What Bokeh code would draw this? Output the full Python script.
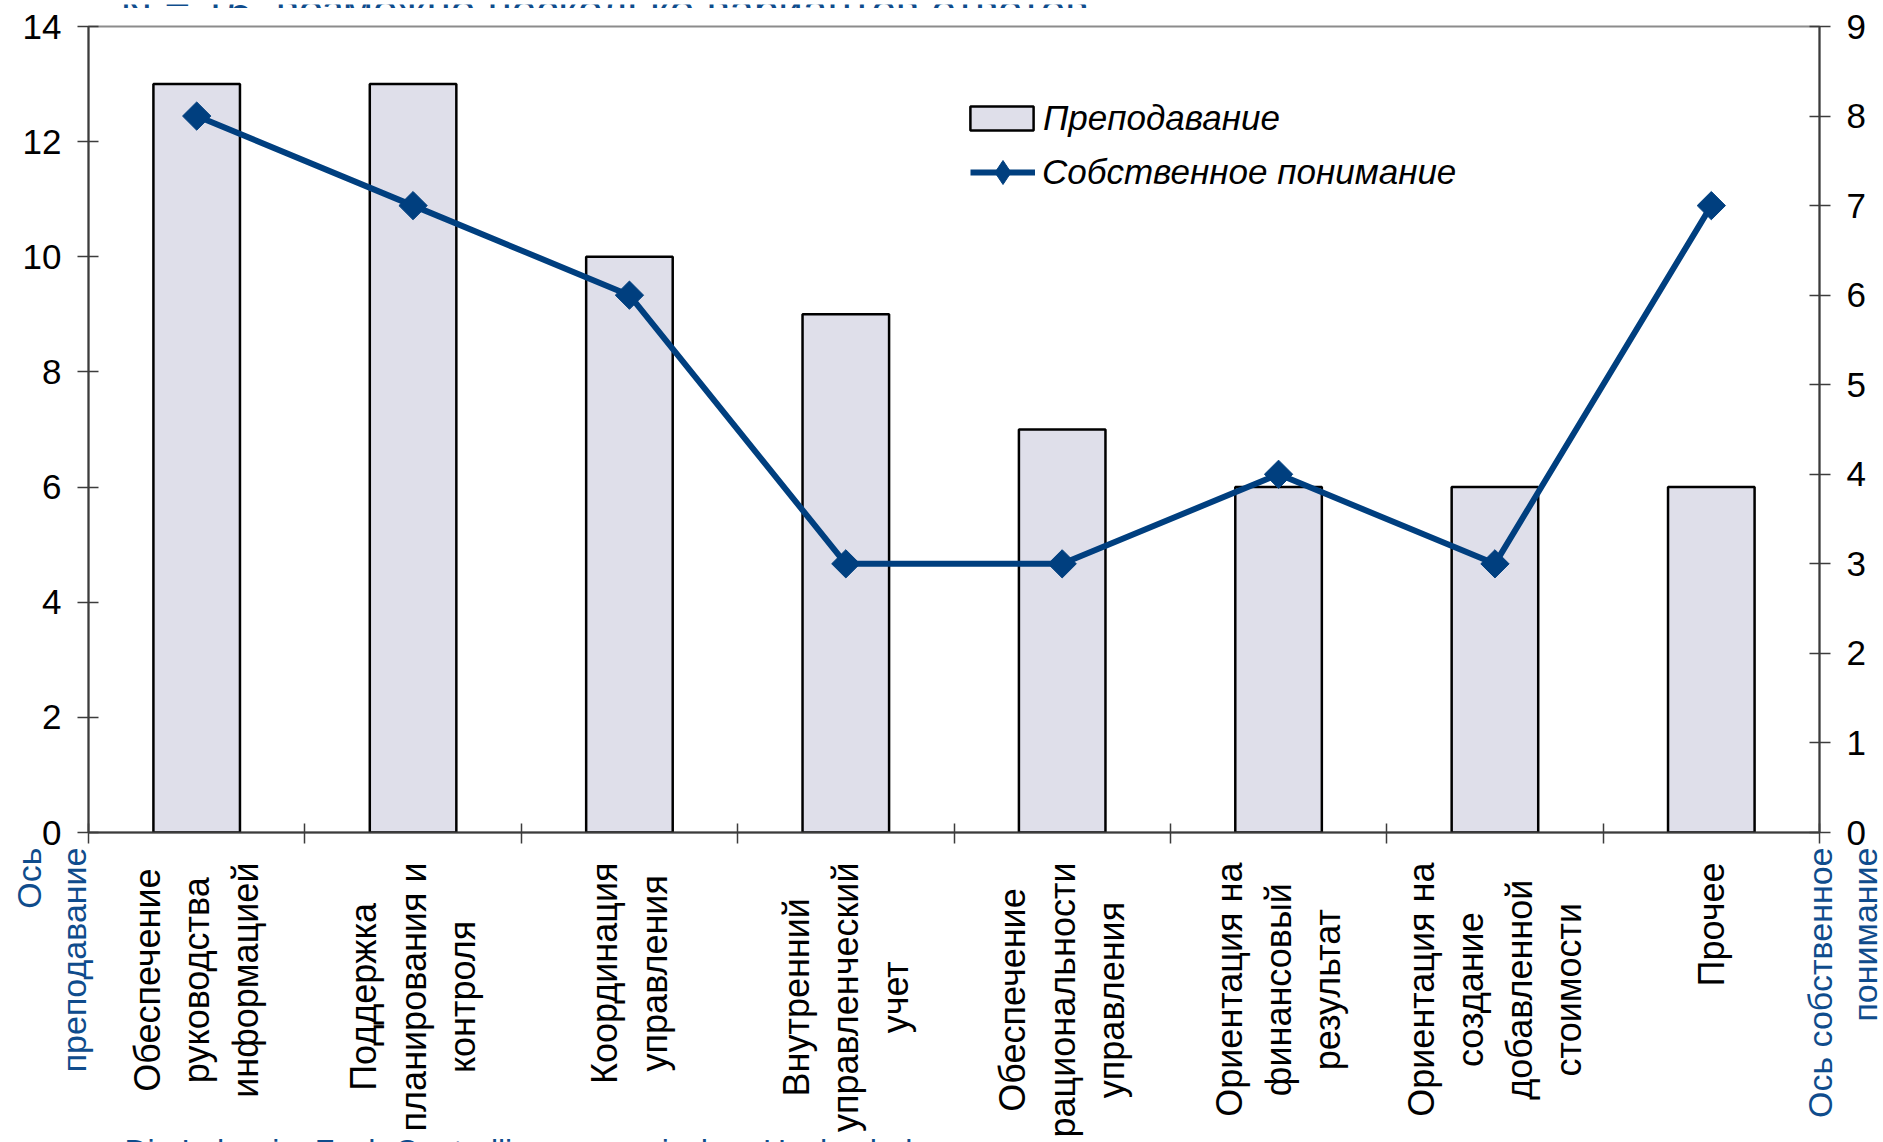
import math
from bokeh.plotting import figure
from bokeh.layouts import column
from bokeh.models import (Range1d, LinearAxis, FixedTicker, Legend,
                          LegendItem, ColumnDataSource)
from bokeh.core.properties import value
from bokeh.embed import file_html
from bokeh.resources import INLINE

# ---------------- data ----------------
categories = [
    "Обеспечение\nруководства\nинформацией",
    "Поддержка\nпланирования и\nконтроля",
    "Координация\nуправления",
    "Внутренний\nуправленческий\nучет",
    "Обеспечение\nрациональности\nуправления",
    "Ориентация на\nфинансовый\nрезультат",
    "Ориентация на\nсоздание\nдобавленной\nстоимости",
    "Прочее",
]
teaching = [13, 13, 10, 9, 7, 6, 6, 6]
own_understanding = [8, 7, 6, 3, 3, 4, 3, 7]
left_ticks = [0, 2, 4, 6, 8, 10, 12, 14]
right_ticks = [0, 1, 2, 3, 4, 5, 6, 7, 8, 9]
series_names = ["Преподавание", "Собственное понимание"]
left_axis_title = "Ось\nпреподавание"
right_axis_title = "Ось собственное\nпонимание"
title_text = "N = 16, возможно несколько вариантов ответов"
source_text = "Die Lehre im Fach Controlling an russischen Hochschulen"

# ---------------- layout / styles ----------------
W = 1883
H_TOP, H_MAIN, H_BOT = 8, 838, 296
B_LEFT, B_RIGHT, B_TOP, B_BOTTOM = 88, 64, 18, 14
FONT = "Liberation Sans"
BLUE_TEXT = "#0f4c8c"
LINE_BLUE = "#003f7f"
BAR_FILL = "#dfdfea"
AXIS_COLOR = "#3c3c3c"

n = len(categories)
xs = [i + 0.5 for i in range(n)]
src = ColumnDataSource(dict(x=xs, teaching=teaching, own=own_understanding))

# ---------------- main chart ----------------
p = figure(width=W, height=H_MAIN,
           x_range=Range1d(0, n), y_range=Range1d(left_ticks[0], left_ticks[-1]),
           output_backend="svg", toolbar_location=None,
           min_border_left=B_LEFT, min_border_right=B_RIGHT,
           min_border_top=B_TOP, min_border_bottom=B_BOTTOM)
p.frame_align = False
p.extra_y_ranges = {"right": Range1d(right_ticks[0], right_ticks[-1])}
p.grid.visible = False
p.outline_line_color = "#8c8c8c"
p.outline_line_width = 2
p.background_fill_color = "white"
p.border_fill_color = "white"

# x axis: ticks at category boundaries, labels drawn separately below
xa = p.xaxis[0]
xa.ticker = FixedTicker(ticks=list(range(n + 1)), minor_ticks=[])
xa.major_label_overrides = {i: "" for i in range(n + 1)}
xa.major_label_text_font_size = "0px"
xa.major_label_standoff = 0
xa.major_tick_in = 9
xa.major_tick_out = 11
xa.axis_line_color = AXIS_COLOR
xa.axis_line_width = 2
xa.major_tick_line_color = AXIS_COLOR
xa.major_tick_line_width = 1.5
xa.minor_tick_line_color = None

ya = p.yaxis[0]
ya.ticker = FixedTicker(ticks=left_ticks, minor_ticks=[])
right_axis = LinearAxis(y_range_name="right",
                        ticker=FixedTicker(ticks=right_ticks, minor_ticks=[]))
p.add_layout(right_axis, "right")
for ax in (ya, right_axis):
    ax.major_tick_in = 10
    ax.major_tick_out = 11
    ax.major_label_standoff = 16
    ax.major_label_text_font = FONT
    ax.major_label_text_font_size = "35px"
    ax.major_label_text_color = "black"
    ax.axis_line_color = AXIS_COLOR
    ax.axis_line_width = 2
    ax.major_tick_line_color = AXIS_COLOR
    ax.major_tick_line_width = 1.5
    ax.minor_tick_line_color = None

bars = p.vbar(x="x", top="teaching", width=0.4, source=src,
              fill_color=BAR_FILL, line_color="black", line_width=2.5)
ln = p.line(x="x", y="own", source=src, y_range_name="right",
            line_color=LINE_BLUE, line_width=6)
mk = p.scatter(x="x", y="own", source=src, y_range_name="right",
               marker="square", size=20, angle=math.pi / 4,
               fill_color=LINE_BLUE, line_color=LINE_BLUE)
# legend-only marker swatch (an empty point, used only to draw the legend diamond)
leg_src = ColumnDataSource(dict(x=[float("nan")], y=[float("nan")]))
mk_leg = p.scatter(x="x", y="y", source=leg_src, y_range_name="right",
                   marker="diamond", size=20,
                   fill_color=LINE_BLUE, line_color=LINE_BLUE)

legend_style = dict(orientation="vertical", padding=0, margin=0,
                    border_line_alpha=0, background_fill_alpha=0,
                    label_text_font=FONT, label_text_font_size="35px",
                    label_text_font_style="italic", label_text_color="black")
leg_a = Legend(items=[LegendItem(label=series_names[0], renderers=[bars])],
               location=(874, 694), glyph_width=79, glyph_height=30,
               label_standoff=2, **legend_style)
leg_b = Legend(items=[LegendItem(label=series_names[1], renderers=[ln, mk_leg])],
               location=(882, 630), glyph_width=65, glyph_height=60,
               label_standoff=7, **legend_style)
p.add_layout(leg_a, "center")
p.add_layout(leg_b, "center")

# ---------------- strips above / below (texts outside the plot area) ----------------
unit = (W - B_LEFT - B_RIGHT) / n
strip_x = Range1d(-B_LEFT / unit, n + B_RIGHT / unit)


def strip(h):
    s = figure(width=W, height=h, x_range=strip_x, y_range=Range1d(0, h),
               x_axis_location=None, y_axis_location=None,
               output_backend="svg", toolbar_location=None,
               min_border=0, min_border_left=0, min_border_right=0,
               min_border_top=0, min_border_bottom=0)
    s.frame_align = False
    s.outline_line_color = None
    s.grid.visible = False
    s.background_fill_color = "white"
    s.border_fill_color = "white"
    return s


top = strip(H_TOP)
top.text(x=[0], y=[H_TOP - 5], text=[title_text], x_offset=32,
         text_align="left", text_baseline="alphabetic",
         text_font=value(FONT), text_font_size="44px", text_color=BLUE_TEXT)

bot = strip(H_BOT)
# category labels
bot.text(x=xs, y=[H_BOT - 16] * n, text=categories, angle=math.pi / 2,
         anchor=value("center_right"), text_align="center",
         text_font=value(FONT), text_font_size="36px", text_line_height=1.2,
         text_color="black")
# axis titles
bot.text(x=[0], y=[H_BOT - 1], text=[left_axis_title], angle=math.pi / 2,
         x_offset=-37, anchor=value("center_right"), text_align="right",
         text_font=value(FONT), text_font_size="34px", text_line_height=1.2,
         text_color=BLUE_TEXT)
bot.text(x=[n], y=[H_BOT - 1], text=[right_axis_title], angle=math.pi / 2,
         x_offset=23, anchor=value("center_right"), text_align="right",
         text_font=value(FONT), text_font_size="34px", text_line_height=1.2,
         text_color=BLUE_TEXT)
# source line (cut by the bottom edge)
bot.text(x=[0], y=[10], text=[source_text], x_offset=36,
         anchor=value("top_left"), text_align="left",
         text_font=value(FONT), text_font_size="32px", text_color=BLUE_TEXT)

layout = column(top, p, bot, spacing=0)
open("out.html", "w").write(file_html(layout, INLINE))
